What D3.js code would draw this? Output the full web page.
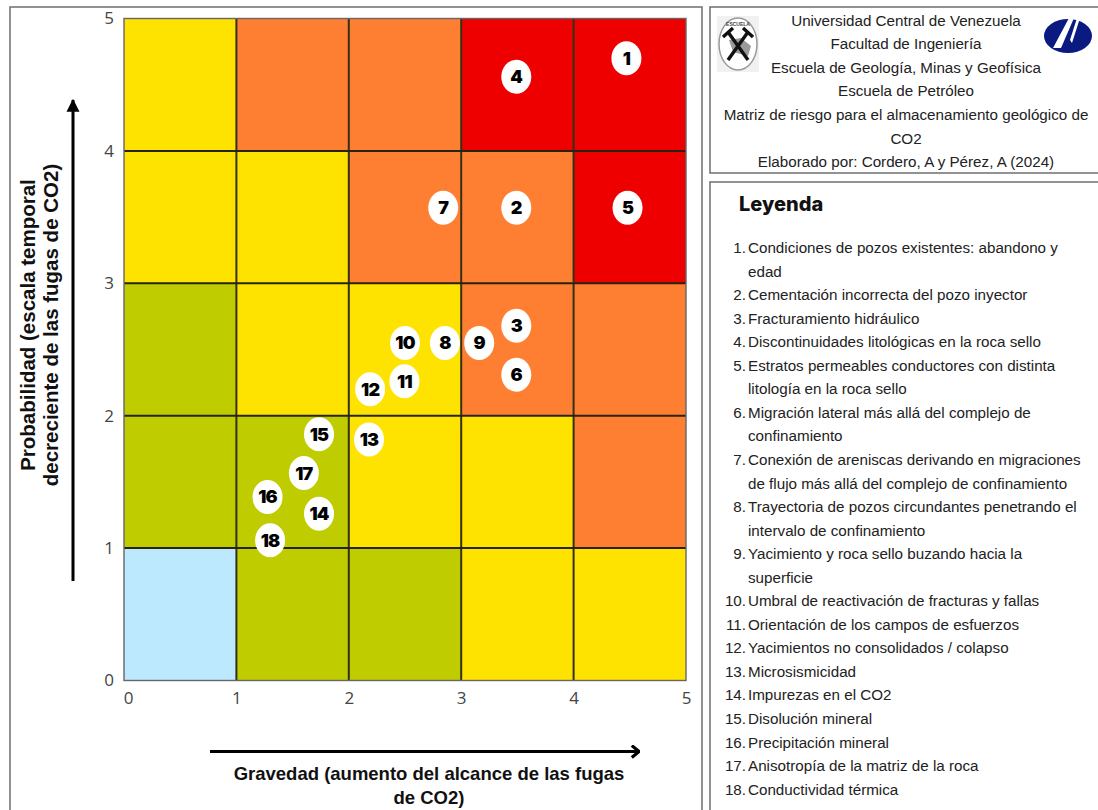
<!DOCTYPE html>
<html>
  <head>
    <meta charset="utf-8">
    <title>Matriz de riesgo</title>
    <style>
      html, body { margin: 0; padding: 0; background: #fff; overflow: hidden; }
      text { font-family: "Liberation Sans", sans-serif; }
      .tick text { font-family: "Open Sans", sans-serif; font-size: 17px; fill: #444; }
    </style>
    <script src="https://cdn.jsdelivr.net/npm/d3@7/dist/d3.min.js"></script>
  </head>
  <body>
    <div id="chart"></div>
    <script type="text/javascript">
      // risk level per cell, top row first
      var riskRows = [
        ["yellow", "orange", "orange", "red", "red"],
        ["yellow", "yellow", "orange", "orange", "red"],
        ["green", "yellow", "yellow", "orange", "orange"],
        ["green", "green", "yellow", "yellow", "orange"],
        ["blue", "green", "green", "yellow", "yellow"]
      ];
      var riskColors = {yellow: "#FFE300", orange: "#FF7F32", red: "#EE0000", green: "#BFCC00", blue: "#BDE9FF"};

      var ticks = [0, 1, 2, 3, 4, 5];

      var riskIds = [1, 2, 3, 4, 5, 6, 7, 8, 9, 10, 11, 12, 13, 14, 15, 16, 17, 18];
      var gravedad = [4.47, 3.49, 3.49, 3.49, 4.48, 3.49, 2.84, 2.855, 3.16, 2.5, 2.495, 2.19, 2.18, 1.735, 1.735, 1.277, 1.6, 1.3];
      var probabilidad = [4.7, 3.57, 2.68, 4.56, 3.57, 2.31, 3.57, 2.55, 2.55, 2.55, 2.26, 2.2, 1.82, 1.26, 1.86, 1.386, 1.567, 1.06];

      var headerLines = [
        "Universidad Central de Venezuela",
        "Facultad de Ingeniería",
        "Escuela de Geología, Minas y Geofísica",
        "Escuela de Petróleo",
        "Matriz de riesgo para el almacenamiento geológico de",
        "CO2",
        "Elaborado por: Cordero, A y Pérez, A (2024)"
      ];

      var legendItems = [
        ["Condiciones de pozos existentes: abandono y", "edad"],
        ["Cementación incorrecta del pozo inyector"],
        ["Fracturamiento hidráulico"],
        ["Discontinuidades litológicas en la roca sello"],
        ["Estratos permeables conductores con distinta", "litología en la roca sello"],
        ["Migración lateral más allá del complejo de", "confinamiento"],
        ["Conexión de areniscas derivando en migraciones", "de flujo más allá del complejo de confinamiento"],
        ["Trayectoria de pozos circundantes penetrando el", "intervalo de confinamiento"],
        ["Yacimiento y roca sello buzando hacia la", "superficie"],
        ["Umbral de reactivación de fracturas y fallas"],
        ["Orientación de los campos de esfuerzos"],
        ["Yacimientos no consolidados / colapso"],
        ["Microsismicidad"],
        ["Impurezas en el CO2"],
        ["Disolución mineral"],
        ["Precipitación mineral"],
        ["Anisotropía de la matriz de la roca"],
        ["Conductividad térmica"]
      ];

      var width = 1098, height = 810;
      var svg = d3.select("#chart").append("svg")
        .attr("width", width)
        .attr("height", height)
        .style("display", "block");

      var defs = svg.append("defs");
      defs.append("marker").attr("id", "headUp")
        .attr("viewBox", "0 0 10 10").attr("refX", 9).attr("refY", 5)
        .attr("markerUnits", "userSpaceOnUse").attr("markerWidth", 13).attr("markerHeight", 15)
        .attr("orient", "auto")
        .append("path").attr("d", "M0,0L10,5L0,10Z").attr("fill", "#000");
      defs.append("marker").attr("id", "headRight")
        .attr("viewBox", "0 0 10 10").attr("refX", 9).attr("refY", 5)
        .attr("markerUnits", "userSpaceOnUse").attr("markerWidth", 12).attr("markerHeight", 14)
        .append("path").attr("d", "M3,0L9,5L3,10")
        .attr("fill", "none").attr("stroke", "#000").attr("stroke-width", 2.6);

      // panel frames
      var frames = [[10, 7, 692, 820], [710, 7, 400, 166], [710, 182, 400, 640]];
      svg.selectAll(".frame").data(frames).enter().append("rect")
        .attr("class", "frame")
        .attr("x", function(d){return d[0];})
        .attr("y", function(d){return d[1];})
        .attr("width", function(d){return d[2];})
        .attr("height", function(d){return d[3];})
        .attr("fill", "#fff").attr("stroke", "#777").attr("stroke-width", 1.6);

      var x = d3.scaleLinear().domain([0, 5]).range([124, 686]);
      var y = d3.scaleLinear().domain([0, 5]).range([680.5, 18.5]);

      // matrix cells
      var plot = svg.append("g");
      riskRows.forEach(function(row, r){
        row.forEach(function(level, c){
          plot.append("rect")
            .attr("x", x(c))
            .attr("y", y(5 - r))
            .attr("width", x(c + 1) - x(c))
            .attr("height", y(4 - r) - y(5 - r))
            .attr("fill", riskColors[level]);
        });
      });

      // inner grid then outer edge
      plot.selectAll(".gridV").data([1, 2, 3, 4]).enter().append("line")
        .attr("x1", function(d){return x(d);}).attr("x2", function(d){return x(d);})
        .attr("y1", y(5)).attr("y2", y(0))
        .attr("stroke", "#33301a").attr("stroke-width", 2);
      plot.selectAll(".gridH").data([1, 2, 3, 4]).enter().append("line")
        .attr("x1", x(0)).attr("x2", x(5))
        .attr("y1", function(d){return y(d);}).attr("y2", function(d){return y(d);})
        .attr("stroke", "#26240f").attr("stroke-width", 2);
      plot.append("rect")
        .attr("x", x(0)).attr("y", y(5))
        .attr("width", x(5) - x(0)).attr("height", y(0) - y(5))
        .attr("fill", "none").attr("stroke", "#666").attr("stroke-width", 1.4);

      // axes
      var xAxis = svg.append("g").attr("transform", "translate(0,680.5)")
        .call(d3.axisBottom(x).tickValues(ticks).tickFormat(d3.format("d")).tickSize(0).tickPadding(11));
      xAxis.select(".domain").remove();
      xAxis.selectAll(".tick").filter(function(d){return d === 0;}).select("text").attr("dx", 4);

      var yAxis = svg.append("g").attr("transform", "translate(124,0)")
        .call(d3.axisLeft(y).tickValues(ticks).tickFormat(d3.format("d")).tickSize(0).tickPadding(10));
      yAxis.select(".domain").remove();

      // direction arrows
      svg.append("line")
        .attr("x1", 73).attr("y1", 581).attr("x2", 73).attr("y2", 100)
        .attr("stroke", "#000").attr("stroke-width", 3).attr("marker-end", "url(#headUp)");
      svg.append("line")
        .attr("x1", 210).attr("y1", 751.5).attr("x2", 639).attr("y2", 751.5)
        .attr("stroke", "#000").attr("stroke-width", 3).attr("marker-end", "url(#headRight)");

      // axis titles
      var xTitle = ["Gravedad (aumento del alcance de las fugas", "de CO2)"];
      svg.selectAll(".xTitle").data(xTitle).enter().append("text")
        .attr("class", "xTitle")
        .attr("x", 429).attr("y", function(d, i){return 780 + i * 24;})
        .attr("text-anchor", "middle")
        .attr("font-size", 18.5).attr("font-weight", 700).attr("fill", "#111")
        .text(function(d){return d;});

      var yTitle = ["Probabilidad (escala temporal", "decreciente de las fugas de CO2)"];
      svg.selectAll(".yTitle").data(yTitle).enter().append("text")
        .attr("class", "yTitle")
        .attr("transform", function(d, i){return "translate(" + (35 + i * 23) + ",325) rotate(-90)";})
        .attr("text-anchor", "middle")
        .attr("font-size", 20.5).attr("font-weight", 700).attr("fill", "#111")
        .text(function(d){return d;});

      // numbered risk markers
      var marks = svg.selectAll(".mark").data(riskIds).enter().append("g")
        .attr("class", "mark")
        .attr("transform", function(d, i){return "translate(" + x(gravedad[i]) + "," + y(probabilidad[i]) + ")";});
      marks.append("ellipse")
        .attr("rx", 15).attr("ry", 17).attr("fill", "#fff");
      marks.append("text")
        .attr("text-anchor", "middle").attr("dy", "0.36em")
        .style("font-family", "Inter, sans-serif")
        .attr("font-size", 18).attr("font-weight", 900).attr("fill", "#000")
        .attr("letter-spacing", -0.8)
        .text(function(d){return d;});

      // header box
      svg.selectAll(".header").data(headerLines).enter().append("text")
        .attr("class", "header")
        .attr("x", 906).attr("y", function(d, i){return 25.5 + i * 23.6;})
        .attr("text-anchor", "middle")
        .attr("font-size", 15.2).attr("fill", "#222")
        .text(function(d){return d;});

      // school seal
      var seal = svg.append("g").attr("transform", "translate(738,44)");
      seal.append("rect").attr("x", -21).attr("y", -28).attr("width", 42).attr("height", 56).attr("fill", "#f1f1f1");
      seal.append("ellipse").attr("rx", 19).attr("ry", 26).attr("fill", "#fff").attr("stroke", "#999").attr("stroke-width", 1.5);
      seal.append("path").attr("d", "M-9,-4L3,-6L13,2L10,12L-5,8Z").attr("fill", "#9a9a9a");
      seal.append("path").attr("d", "M-10,16L10,-12M10,16L-10,-12")
        .attr("stroke", "#111").attr("stroke-width", 3.4).attr("fill", "none");
      seal.append("path").attr("d", "M-15,-7L-5,-16M15,-7L5,-16")
        .attr("stroke", "#111").attr("stroke-width", 3.4).attr("fill", "none");
      seal.append("text").attr("y", -18).attr("text-anchor", "middle")
        .attr("font-size", 5).attr("font-weight", 700).attr("fill", "#444").text("ESCUELA");

      // university logo
      var logo = svg.append("g").attr("transform", "translate(1068,36)");
      logo.append("ellipse").attr("rx", 24).attr("ry", 17).attr("fill", "#0b1a80");
      logo.append("path").attr("d", "M-15,12L-7,12L6,-18L1,-18Z").attr("fill", "#fff");
      logo.append("path").attr("d", "M9,-18L2,4L4,7L12,-18Z").attr("fill", "#fff");

      // legend
      svg.append("text")
        .attr("x", 739).attr("y", 211)
        .style("font-family", "Inter, sans-serif")
        .attr("font-size", 20).attr("font-weight", 800).attr("fill", "#111")
        .text("Leyenda");

      var legend = svg.append("g");
      var lineNo = 0;
      legendItems.forEach(function(lines, i){
        legend.append("text")
          .attr("x", 746).attr("y", 253 + lineNo * 23.55)
          .attr("text-anchor", "end")
          .attr("font-size", 15.2).attr("fill", "#222")
          .text((i + 1) + ".");
        lines.forEach(function(line){
          legend.append("text")
            .attr("x", 748).attr("y", 253 + lineNo * 23.55)
            .attr("font-size", 15.2).attr("fill", "#222")
            .text(line);
          lineNo++;
        });
      });
    </script>
  </body>
</html>
